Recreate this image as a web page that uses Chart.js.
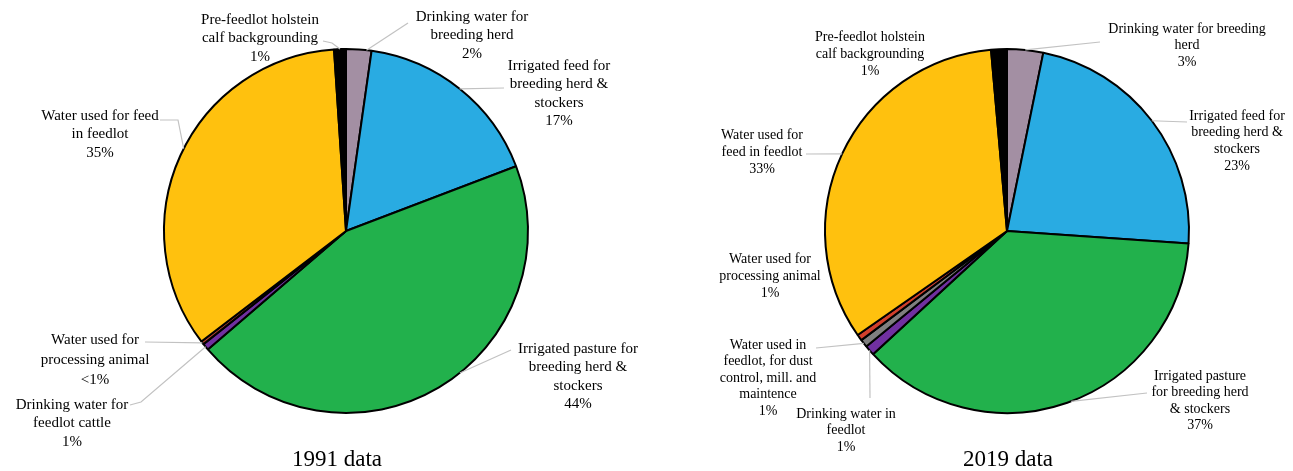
<!DOCTYPE html>
<html>
<head>
<meta charset="utf-8">
<script src="https://cdn.jsdelivr.net/npm/chart.js@4.4.0/dist/chart.umd.min.js"></script>
<style>
    html, body { margin: 0; padding: 0; background: #fff; overflow: hidden; width: 1293px; height: 471px; }
    canvas { position: absolute; top: 0; }
    #pie-1991 { left: 0; }
    #pie-2019 { left: 700px; }
</style>
</head>
<body>
<canvas id="pie-1991" width="692" height="471"></canvas>
<canvas id="pie-2019" width="614" height="471"></canvas>
<script>
// 1991 data, clockwise from 12 o'clock
const categories1991 = [
    ['Drinking water for', 'breeding herd'],
    ['Irrigated feed for', 'breeding herd &', 'stockers'],
    ['Irrigated pasture for', 'breeding herd &', 'stockers'],
    ['Drinking water for', 'feedlot cattle'],
    ['Water used for', 'processing animal'],
    ['Water used for feed', 'in feedlot'],
    ['Pre-feedlot holstein', 'calf backgrounding']
];
const values1991 = [2.25, 17.0, 44.6, 0.6, 0.3, 34.4, 1.05];
const percents1991 = ['2%', '17%', '44%', '1%', '<1%', '35%', '1%'];
const colors1991 = ['#A38FA3', '#29ABE2', '#22B14C', '#7030A0', '#B9472F', '#FFC10E', '#000000'];

// 2019 data, clockwise from 12 o'clock
const categories2019 = [
    ['Drinking water for breeding', 'herd'],
    ['Irrigated feed for', 'breeding herd &', 'stockers'],
    ['Irrigated pasture', 'for breeding herd', '& stockers'],
    ['Drinking water in', 'feedlot'],
    ['Water used in', 'feedlot, for dust', 'control, mill. and', 'maintence'],
    ['Water used for', 'processing animal'],
    ['Water used for', 'feed in feedlot'],
    ['Pre-feedlot holstein', 'calf backgrounding']
];
const values2019 = [3.2, 22.9, 37.1, 0.9, 0.7, 0.55, 33.3, 1.4];
const percents2019 = ['3%', '23%', '37%', '1%', '1%', '1%', '33%', '1%'];
const colors2019 = ['#A38FA3', '#29ABE2', '#22B14C', '#7030A0', '#7F7F7F', '#D2402C', '#FFC10E', '#000000'];

// where each callout sits (page coords); leader runs from path to the slice edge
const layout1991 = [
    { x: 472, y: 17, lh: 18.5, at: 0.8, path: [[408, 23]] },
    { x: 559, y: 66, lh: 18.5, at: 0.5, path: [[504, 88]] },
    { x: 578, y: 349, lh: 18.5, at: 0.45, path: [[511, 350]] },
    { x: 72, y: 405, lh: 18.5, at: 0.5, path: [[130, 405], [141, 402]] },
    { x: 95, y: 340, lh: 20, at: 0.5, path: [[145, 342]] },
    { x: 100, y: 116, lh: 18.5, at: 0.52, path: [[160, 120], [178, 120]] },
    { x: 260, y: 20, lh: 18.5, at: 0.5, path: [[323, 41], [332, 43]] }
];
const layout2019 = [
    { x: 1187, y: 29, lh: 16.7, at: 0.5, path: [[1100, 42]] },
    { x: 1237, y: 116, lh: 16.7, at: 0.5, path: [[1187, 122]] },
    { x: 1200, y: 376, lh: 16.5, at: 0.49, path: [[1147, 393]] },
    { x: 846, y: 414, lh: 16.8, at: 0.5, path: [[870, 398]] },
    { x: 768, y: 345, lh: 16.5, at: 0.5, path: [[816, 348]] },
    { x: 770, y: 259, lh: 17, at: 0.5, path: null },
    { x: 762, y: 135, lh: 17, at: 0.5, path: [[806, 154]] },
    { x: 870, y: 37, lh: 17, at: 0.5, path: null }
];

const calloutPlugin = {
    id: 'callouts',
    afterDraw(chart, args, opts) {
        const ctx = chart.ctx;
        const meta = chart.getDatasetMeta(0);
        const dx = chart.canvas.offsetLeft;
        const spots = opts.layout;
        const pcts = opts.percents;
        ctx.save();
        ctx.font = opts.size + 'px "Liberation Serif"';
        ctx.textAlign = 'center';
        ctx.textBaseline = 'middle';
        for (let i = 0; i < meta.data.length; i++) {
            const arc = meta.data[i];
            const spot = spots[i];
            if (spot.path) {
                const a = arc.startAngle + (arc.endAngle - arc.startAngle) * spot.at;
                const ex = arc.x + arc.outerRadius * Math.cos(a);
                const ey = arc.y + arc.outerRadius * Math.sin(a);
                ctx.strokeStyle = '#c2c2c2';
                ctx.lineWidth = 1.2;
                ctx.beginPath();
                ctx.moveTo(spot.path[0][0] - dx, spot.path[0][1]);
                for (let k = 1; k < spot.path.length; k++) {
                    ctx.lineTo(spot.path[k][0] - dx, spot.path[k][1]);
                }
                ctx.lineTo(ex, ey);
                ctx.stroke();
            }
            const lines = chart.data.labels[i].concat([pcts[i]]);
            ctx.fillStyle = '#000';
            lines.forEach((t, k) => ctx.fillText(t, spot.x - dx, spot.y + k * spot.lh));
        }
        ctx.font = '23px "Liberation Serif"';
        ctx.textBaseline = 'alphabetic';
        ctx.fillStyle = '#000';
        ctx.fillText(opts.title, opts.titleX - dx, 466);
        ctx.restore();
    }
};

const pieChart = (id, labels, values, colors, percents, layout, title, titleX, size) => {
    const data = {
        labels: labels,
        datasets: [{
            data: values,
            backgroundColor: colors,
            borderColor: '#000000',
            borderWidth: 2,
            radius: 182
        }]
    };

    const chartConfig = {
        type: 'pie',
        data: data,
        options: {
            responsive: false,
            animation: false,
            events: [],
            layout: { padding: { top: 0, bottom: 9, left: 0, right: 0 } },
            plugins: {
                legend: { display: false },
                tooltip: { enabled: false },
                callouts: { layout: layout, percents: percents, title: title, titleX: titleX, size: size }
            }
        },
        plugins: [calloutPlugin]
    };

    const ctx = document.getElementById(id).getContext('2d');
    new Chart(ctx, chartConfig);
};

pieChart('pie-1991', categories1991, values1991, colors1991, percents1991, layout1991, '1991 data', 337, 15);
pieChart('pie-2019', categories2019, values2019, colors2019, percents2019, layout2019, '2019 data', 1008, 14);
</script>
</body>
</html>
